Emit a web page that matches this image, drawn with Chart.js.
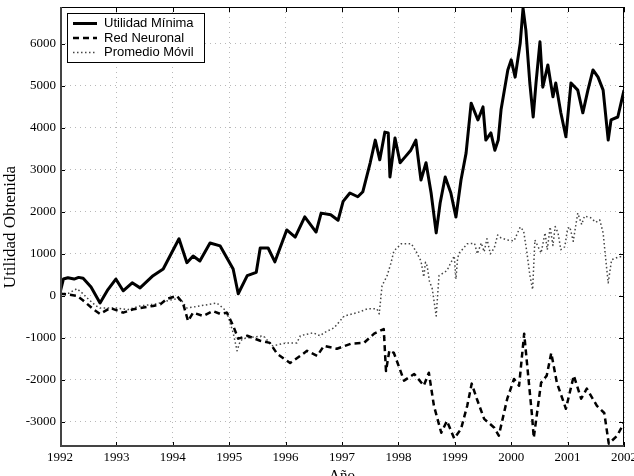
<!DOCTYPE html>
<html>
<head>
<meta charset="utf-8">
<script src="https://cdn.jsdelivr.net/npm/chart.js@4.4.1/dist/chart.umd.min.js"></script>
<style>
  body { margin: 0; background: #fff; }
  canvas { display: block; }
</style>
</head>
<body>
<canvas id="myChart" width="634" height="476"></canvas>
<script>
const yearTicks = [1992, 1993, 1994, 1995, 1996, 1997, 1998, 1999, 2000, 2001, 2002];
const valueTicks = [-3000, -2000, -1000, 0, 1000, 2000, 3000, 4000, 5000, 6000];
const seriesNames = ['Utilidad Mínima', 'Red Neuronal', 'Promedio Móvil'];

// [año, utilidad]
const utilidadMinima = [
  [1992.00, 70], [1992.06, 400], [1992.14, 430], [1992.25, 400], [1992.33, 440], [1992.41, 420],
  [1992.55, 210], [1992.71, -170], [1992.85, 150], [1992.99, 400], [1993.12, 120], [1993.28, 310],
  [1993.42, 190], [1993.65, 480], [1993.83, 640], [1993.95, 950], [1994.11, 1360], [1994.25, 790],
  [1994.36, 950], [1994.48, 830], [1994.66, 1260], [1994.84, 1190], [1995.07, 640], [1995.16, 50],
  [1995.32, 480], [1995.48, 560], [1995.55, 1140], [1995.69, 1140], [1995.81, 810], [1996.02, 1570],
  [1996.17, 1400], [1996.34, 1880], [1996.54, 1520], [1996.63, 1970], [1996.80, 1930], [1996.93, 1800],
  [1997.02, 2250], [1997.14, 2450], [1997.28, 2360], [1997.37, 2480], [1997.50, 3170], [1997.59, 3710],
  [1997.67, 3240], [1997.76, 3900], [1997.82, 3880], [1997.85, 2830], [1997.94, 3760], [1998.03, 3170],
  [1998.12, 3310], [1998.22, 3470], [1998.31, 3710], [1998.40, 2760], [1998.49, 3170], [1998.58, 2450],
  [1998.67, 1500], [1998.74, 2210], [1998.83, 2830], [1998.93, 2450], [1999.02, 1880], [1999.11, 2760],
  [1999.20, 3400], [1999.29, 4590], [1999.41, 4190], [1999.50, 4500], [1999.55, 3710], [1999.64, 3880],
  [1999.71, 3470], [1999.77, 3710], [1999.82, 4430], [1999.94, 5380], [2000.00, 5620], [2000.07, 5210],
  [2000.16, 6020], [2000.21, 6850], [2000.26, 6330], [2000.33, 5070], [2000.39, 4260], [2000.44, 5070],
  [2000.51, 6050], [2000.56, 4970], [2000.65, 5500], [2000.74, 4740], [2000.79, 5070], [2000.88, 4360],
  [2000.97, 3790], [2001.06, 5070], [2001.18, 4900], [2001.27, 4360], [2001.36, 4900], [2001.45, 5380],
  [2001.54, 5210], [2001.63, 4900], [2001.72, 3710], [2001.77, 4190], [2001.89, 4260], [2002.00, 4900]
];

const redNeuronal = [
  [1992.00, 50], [1992.15, 30], [1992.30, 0], [1992.40, -100], [1992.48, -190], [1992.60, -330],
  [1992.71, -430], [1992.89, -290], [1993.12, -400], [1993.30, -320], [1993.42, -290], [1993.65, -240],
  [1993.78, -200], [1993.90, -70], [1994.07, 0], [1994.18, -170], [1994.27, -600], [1994.36, -400],
  [1994.54, -480], [1994.71, -360], [1994.84, -430], [1994.96, -400], [1995.07, -710], [1995.16, -1020],
  [1995.32, -950], [1995.55, -1070], [1995.72, -1120], [1995.85, -1380], [1996.08, -1600], [1996.26, -1430],
  [1996.38, -1310], [1996.56, -1430], [1996.68, -1190], [1996.91, -1260], [1997.16, -1140], [1997.39, -1120],
  [1997.57, -900], [1997.74, -790], [1997.78, -1790], [1997.84, -1300], [1997.92, -1360], [1998.10, -2020],
  [1998.28, -1860], [1998.45, -2140], [1998.54, -1830], [1998.63, -2620], [1998.76, -3260], [1998.86, -2980],
  [1998.99, -3400], [1999.11, -3170], [1999.22, -2620], [1999.30, -2090], [1999.39, -2450], [1999.52, -2930],
  [1999.70, -3140], [1999.78, -3330], [1999.93, -2450], [2000.05, -1980], [2000.14, -2140], [2000.23, -900],
  [2000.28, -1600], [2000.37, -2860], [2000.40, -3380], [2000.53, -2070], [2000.63, -1900], [2000.71, -1360],
  [2000.81, -2070], [2000.97, -2690], [2001.11, -1900], [2001.24, -2450], [2001.34, -2210], [2001.52, -2620],
  [2001.65, -2790], [2001.73, -3520], [2001.88, -3330], [2002.00, -3020]
];

const promedioMovil = [
  [1992.00, 50], [1992.15, 60], [1992.30, 170], [1992.40, 60], [1992.48, -50], [1992.64, -240],
  [1992.71, -290], [1993.00, -290], [1993.20, -330], [1993.42, -240], [1993.72, -190], [1993.95, -100],
  [1994.07, -70], [1994.16, -120], [1994.25, -290], [1994.48, -240], [1994.78, -170], [1994.90, -300],
  [1994.96, -400], [1995.07, -880], [1995.14, -1310], [1995.19, -1100], [1995.24, -1020], [1995.60, -950],
  [1995.77, -1190], [1996.02, -1120], [1996.20, -1120], [1996.26, -950], [1996.49, -880], [1996.61, -950],
  [1996.68, -880], [1996.86, -760], [1997.04, -480], [1997.27, -400], [1997.45, -310], [1997.62, -310],
  [1997.66, -430], [1997.71, 240], [1997.80, 480], [1997.87, 790], [1997.92, 1070], [1998.05, 1240],
  [1998.23, 1240], [1998.33, 1020], [1998.40, 830], [1998.45, 450], [1998.48, 800], [1998.51, 710],
  [1998.55, 350], [1998.60, 170], [1998.64, -200], [1998.67, -480], [1998.72, 480], [1998.86, 600],
  [1998.99, 950], [1999.02, 400], [1999.05, 900], [1999.08, 1020], [1999.22, 1240], [1999.35, 1250],
  [1999.40, 1000], [1999.47, 1260], [1999.52, 1050], [1999.57, 1360], [1999.63, 1000], [1999.70, 1140],
  [1999.76, 1450], [1999.82, 1380], [1999.93, 1330], [2000.05, 1310], [2000.16, 1640], [2000.22, 1550],
  [2000.28, 1020], [2000.33, 500], [2000.38, 150], [2000.42, 1330], [2000.53, 1020], [2000.60, 1500],
  [2000.64, 1100], [2000.69, 1640], [2000.74, 1200], [2000.78, 1650], [2000.83, 1500], [2000.88, 1100],
  [2000.95, 1170], [2001.00, 1600], [2001.04, 1640], [2001.10, 1300], [2001.18, 1970], [2001.25, 1700],
  [2001.30, 1900], [2001.41, 1860], [2001.50, 1750], [2001.57, 1810], [2001.63, 1500], [2001.69, 690],
  [2001.72, 310], [2001.78, 860], [2001.91, 930], [2002.00, 930]
];

const serif = "'Liberation Serif', 'DejaVu Serif', serif";
const sans = "'Liberation Sans', Arial, sans-serif";

const lineStyles = [
  { color: '#000', width: 3, dash: [] },
  { color: '#000', width: 2.5, dash: [6, 4] },
  { color: '#444', width: 1.5, dash: [1.5, 2.5] }
];

const toPoints = arr => arr.map(p => ({ x: p[0], y: p[1] }));

// box, inward ticks and the legend inside the plot
const framePlugin = {
  id: 'frame',
  afterDatasetsDraw(chart) {
    const { ctx, chartArea: a, scales: { x, y } } = chart;
    ctx.save();
    ctx.setLineDash([]);
    ctx.strokeStyle = '#000';
    ctx.lineWidth = 1;
    ctx.beginPath();
    yearTicks.forEach(v => {
      const px = Math.round(x.getPixelForValue(v)) + 0.5;
      ctx.moveTo(px, a.bottom); ctx.lineTo(px, a.bottom - 5);
      ctx.moveTo(px, a.top); ctx.lineTo(px, a.top + 5);
    });
    valueTicks.forEach(v => {
      const py = Math.round(y.getPixelForValue(v)) + 0.5;
      ctx.moveTo(a.left, py); ctx.lineTo(a.left + 5, py);
      ctx.moveTo(a.right, py); ctx.lineTo(a.right - 5, py);
    });
    ctx.stroke();

    ctx.strokeRect(a.left + 0.5, a.top + 0.5, a.right - a.left - 1, a.bottom - a.top - 1);
    ctx.strokeStyle = '#444';
    ctx.lineWidth = 2;
    ctx.beginPath();
    ctx.moveTo(a.left + 1, a.top);
    ctx.lineTo(a.left + 1, a.bottom - 1);
    ctx.lineTo(a.right, a.bottom - 1);
    ctx.stroke();

    // legend
    const bx = a.left + 7, by = a.top + 6;
    ctx.fillStyle = '#fff';
    ctx.fillRect(bx, by, 137, 49);
    ctx.strokeStyle = '#000';
    ctx.lineWidth = 1;
    ctx.strokeRect(bx + 0.5, by + 0.5, 137, 49);
    ctx.font = '13px ' + sans;
    ctx.textBaseline = 'middle';
    seriesNames.forEach((name, i) => {
      const ly = by + 10.5 + i * 14.5;
      const st = lineStyles[i];
      ctx.strokeStyle = st.color;
      ctx.lineWidth = st.width;
      ctx.setLineDash(st.dash);
      ctx.beginPath();
      ctx.moveTo(bx + 6, ly);
      ctx.lineTo(bx + 30, ly);
      ctx.stroke();
      ctx.fillStyle = '#000';
      ctx.fillText(name, bx + 37, ly);
    });
    ctx.restore();
  }
};

const ctx = document.getElementById('myChart').getContext('2d');
const myChart = new Chart(ctx, {
  type: 'line',
  data: {
    datasets: [utilidadMinima, redNeuronal, promedioMovil].map((series, i) => ({
      label: seriesNames[i],
      data: toPoints(series),
      borderColor: lineStyles[i].color,
      borderWidth: lineStyles[i].width,
      borderDash: lineStyles[i].dash,
      borderJoinStyle: 'round',
      pointRadius: 0,
      tension: 0,
      fill: false
    }))
  },
  options: {
    responsive: false,
    animation: false,
    devicePixelRatio: 1,
    layout: { padding: { top: 7, right: 10, left: 0, bottom: 0 } },
    plugins: {
      legend: { display: false },
      tooltip: { enabled: false }
    },
    scales: {
      x: {
        type: 'linear',
        min: 1992,
        max: 2002,
        afterBuildTicks: s => { s.ticks = yearTicks.map(v => ({ value: v })); },
        afterFit: s => { s.height = 29; s.paddingLeft = 0; s.paddingRight = 0; },
        ticks: {
          autoSkip: false,
          maxRotation: 0,
          padding: 3,
          color: '#000',
          font: { family: serif, size: 13 },
          callback: v => String(v)
        },
        grid: { color: '#b8b8b8', drawTicks: false },
        border: { display: false, dash: [1, 4] },
        title: {
          display: true,
          text: 'Año',
          color: '#000',
          font: { family: serif, size: 15 },
          padding: { top: 0, bottom: -9 }
        }
      },
      y: {
        min: -3600,
        max: 6880,
        afterBuildTicks: s => { s.ticks = valueTicks.map(v => ({ value: v })); },
        afterFit: s => { s.width = 60; s.paddingTop = 0; s.paddingBottom = 0; },
        ticks: {
          padding: 4,
          color: '#000',
          font: { family: serif, size: 13 },
          callback: v => String(v)
        },
        grid: { color: '#b8b8b8', drawTicks: false },
        border: { display: false, dash: [1, 4] },
        title: {
          display: true,
          text: 'Utilidad Obtenida',
          color: '#000',
          font: { family: serif, size: 17 },
          padding: { top: 0, bottom: 0 }
        }
      }
    }
  },
  plugins: [framePlugin]
});
</script>
</body>
</html>
